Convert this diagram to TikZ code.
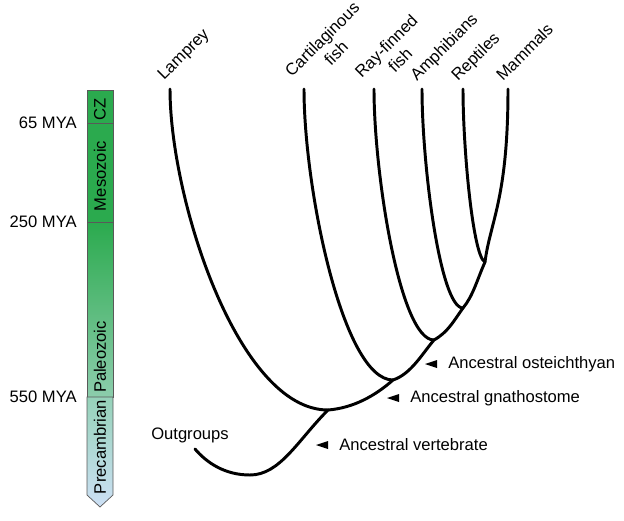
\documentclass[tikz,border=0pt]{standalone}
\usepackage{fontspec}
\setmainfont{Liberation Sans}
\usetikzlibrary{positioning, calc}
\definecolor{cenogreen}{RGB}{43,170,78}
\definecolor{paleolow}{RGB}{140,205,172}
\definecolor{precamtop}{RGB}{150,210,185}
\definecolor{precamlow}{RGB}{205,224,245}

\begin{document}
\begin{tikzpicture}[x=0.025cm, y=-0.025cm,
  branch/.style={line width=2.1pt, line cap=round},
  taxon/.style={rotate=45, align=center, inner sep=0pt, font=\fontsize{11.8}{14}\selectfont},
  lbl/.style={inner sep=0pt, font=\fontsize{11.8}{14}\selectfont},
  era/.style={draw=black!65, line width=0.5pt},
  eralbl/.style={lbl, rotate=90},
  pointer/.style={fill=black}]
\useasboundingbox (0,0) rectangle (624,520);
% time bar
\path[era, fill=cenogreen] (87,90) rectangle (113,222);
\path[era, top color=cenogreen, bottom color=paleolow] (87,222) rectangle (113,397);
\path[era, top color=precamtop, bottom color=precamlow] (87,397) -- (113,397) -- (113,495) -- (100,507) -- (87,495) -- cycle;
\draw[era] (87,123) -- (113,123);
\node[eralbl] (cz)    at (100,109) {CZ};
\node[eralbl] (meso)  at (100,176) {Mesozoic};
\node[eralbl] (paleo) at (100,357) {Paleozoic};
\node[eralbl] (precam) at (100,447) {Precambrian};
\node[lbl, anchor=east] (t65)  at (77,123) {65 MYA};
\node[lbl, anchor=east] (t250) at (77,222) {250 MYA};
\node[lbl, anchor=east] (t550) at (77,397) {550 MYA};
% tips
\foreach \name/\x/\anc/\dx/\dy/\txt in {lamprey/170/base west/-6/-8/Lamprey,
  chond/304/south west/2/3/{Cartilaginous\\fish},
  actino/374/south west/2/4/{Ray-finned\\fish},
  amph/422/base west/-5/-7/Amphibians,
  rept/463/base west/-5/-7/Reptiles,
  mamm/508/base west/-5/-7/Mammals} {
  \coordinate (\name) at (\x,89);
  \node[taxon, anchor=\anc] (\name lbl) at ($(\name)+(\dx,\dy)$) {\txt};
}
% ancestors
\coordinate (amniote)  at (485,262);
\coordinate (tetrapod) at (463,308);
\coordinate (osteich)  at (434,340);
\coordinate (gnath)    at (393,380);
\coordinate (vert)     at (328,410);
\coordinate (root)     at (250,475);
\coordinate (outgroup) at (195,449);
% spine
\draw[branch] (mamm) .. controls +(0,110) and +(5,-40) .. (amniote)
  .. controls +(-8,18) and +(10,-12) .. (tetrapod)
  .. controls +(-10,14) and +(14,-8) .. (osteich)
  .. controls +(-12,14) and +(18,-6) .. (gnath)
  .. controls +(-18,16) and +(25,-2) .. (vert)
  .. controls +(-30,30) and +(30,0) .. (root);
\draw[branch] (outgroup) .. controls +(12,14) and +(-25,0) .. (root);
% side branches
\draw[branch] (rept)    .. controls +(0,60) and +(-12,-5) .. (amniote);
\draw[branch] (amph)    .. controls +(0,75) and +(-23,0) .. (tetrapod);
\draw[branch] (actino)  .. controls +(0,85) and +(-34,0) .. (osteich);
\draw[branch] (chond)   .. controls +(0,100) and +(-50,0) .. (gnath);
\draw[branch] (lamprey) .. controls +(0,110) and +(-90,0) .. (vert);
% annotations
\node[lbl, anchor=west] (osteichlbl) at (448,364) {Ancestral osteichthyan};
\node[lbl, anchor=west] (gnathlbl)   at (410,398) {Ancestral gnathostome};
\node[lbl, anchor=west] (vertlbl)    at (339,445) {Ancestral vertebrate};
\node[lbl] (outlbl) at (190,435) {Outgroups};
\foreach \n in {osteichlbl, gnathlbl, vertlbl}
  \fill[pointer] ($(\n.west)+(-23,0)$) -- ++(12,-4) -- ++(0,8) -- cycle;
\end{tikzpicture}
\end{document}
